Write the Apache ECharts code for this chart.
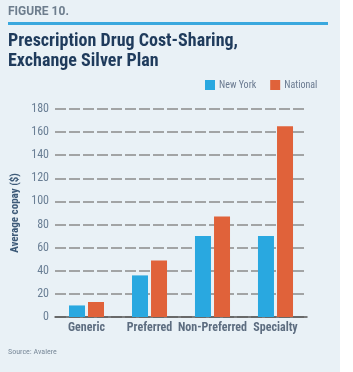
<!DOCTYPE html>
<html>
<head>
<meta charset="utf-8">
<script src="https://cdn.jsdelivr.net/npm/echarts@6/dist/echarts.min.js"></script>
<style>
  html, body { margin: 0; padding: 0; background: #fff; }
  #chart { width: 353px; height: 372px; }
</style>
</head>
<body>
<div id="chart"></div>
<script>
const categories = ['Generic', 'Preferred', 'Non-Preferred', 'Specialty']
const newYork = [10, 36, 70, 70]
const national = [13, 49, 87, 165]
const yTicks = { min: 0, max: 180, interval: 20 }

const condensed = '"Liberation Sans Narrow", "Roboto Condensed", Roboto, sans-serif'

const chart = echarts.init(document.getElementById('chart'))
chart.setOption({
  backgroundColor: '#fff',
  animation: false,
  graphic: [
    { type: 'rect', shape: { x: 0, y: 0, width: 340, height: 372 }, style: { fill: '#e9f1f6' }, z: -10 },
    { type: 'text', left: 8, top: 6, style: { text: 'FIGURE 10.', font: 'bold 12px Roboto, sans-serif', fill: '#6d7d8d' } },
    { type: 'rect', shape: { x: 8, y: 22, width: 320, height: 3 }, style: { fill: '#3aa8de' } },
    {
      type: 'text', left: 8, top: 31,
      style: {
        text: 'Prescription Drug Cost-Sharing,\nExchange Silver Plan',
        font: 'bold 18px ' + condensed,
        lineHeight: 20,
        fill: '#1f3b5c'
      }
    },
    { type: 'text', left: 8, top: 348, style: { text: 'Source: Avalere', font: '8px ' + condensed, fill: '#7a8a9a' } }
  ],
  legend: {
    data: ['New York', 'National'],
    top: 75,
    left: 200,
    itemWidth: 10,
    itemHeight: 10,
    itemGap: 14,
    icon: 'rect',
    textStyle: { fontFamily: condensed, fontSize: 10, color: '#6a7a90', padding: [0, 0, 0, -1] }
  },
  grid: { left: 55, right: 46, top: 109, bottom: 55 },
  xAxis: {
    type: 'category',
    data: categories,
    axisLine: { lineStyle: { color: '#555', width: 1.5 } },
    axisTick: { show: false },
    axisLabel: { fontFamily: condensed, fontWeight: 'bold', fontSize: 12, color: '#5d6d80', margin: 5, interval: 0 }
  },
  yAxis: {
    type: 'value',
    min: yTicks.min,
    max: yTicks.max,
    interval: yTicks.interval,
    name: 'Average copay ($)',
    nameLocation: 'middle',
    nameGap: 30,
    nameTextStyle: { fontFamily: condensed, fontWeight: 'bold', fontSize: 11, color: '#3d5a78' },
    axisLine: { show: false },
    axisTick: { show: false },
    axisLabel: { fontFamily: condensed, fontSize: 12, color: '#6a7f95', margin: 6 },
    splitLine: { lineStyle: { color: '#8a8a8a', width: 1.5, type: [11, 3] } }
  },
  series: [
    { name: 'New York', type: 'bar', data: newYork, barWidth: 16, barGap: '19%', itemStyle: { color: '#29a8e0' } },
    { name: 'National', type: 'bar', data: national, barWidth: 16, itemStyle: { color: '#e0623a' } }
  ]
})
</script>
</body>
</html>
